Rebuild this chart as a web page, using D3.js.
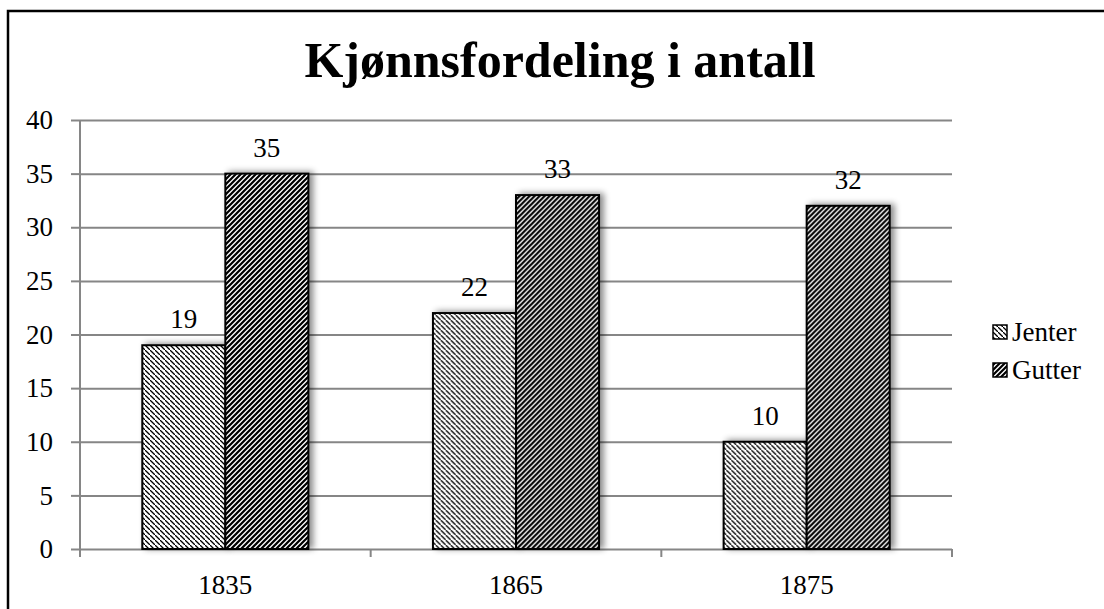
<!DOCTYPE html>
<html>
<head>
<meta charset="utf-8">
<script src="https://cdn.jsdelivr.net/npm/d3@7"></script>
<style>
  body { margin: 0; background: #fff; }
  text { font-family: "Liberation Serif", "DejaVu Serif", serif; fill: #000; }
</style>
</head>
<body>
<div id="canvas"></div>
<script>
/* DATA */
const years = ["1835", "1865", "1875"];
const series = ["Jenter", "Gutter"];
const jenter = [19, 22, 10];
const gutter = [35, 33, 32];
const yTicks = [0, 5, 10, 15, 20, 25, 30, 35, 40];
const title = "Kjønnsfordeling i antall";

const values = { Jenter: jenter, Gutter: gutter };

/* CREATE THE SVG CANVAS */
const width = 1104;
const height = 609;

const svg = d3.select("#canvas")
    .append("svg")
    .attr("width", width)
    .attr("height", height);

const defs = svg.append("defs");

/* HATCH PATTERNS FOR THE TWO SERIES */
const hatch = 5;

const jPat = defs.append("pattern")
    .attr("id", "hatch-jenter")
    .attr("patternUnits", "userSpaceOnUse")
    .attr("width", hatch).attr("height", hatch);
jPat.append("rect").attr("width", hatch).attr("height", hatch).attr("fill", "#fff");
jPat.append("path")
    .attr("d", `M-1,-1 l2,2 M0,0 l${hatch},${hatch} M${hatch - 1},${hatch - 1} l2,2`)
    .attr("stroke", "#000")
    .attr("stroke-width", 1.3);

const gPat = defs.append("pattern")
    .attr("id", "hatch-gutter")
    .attr("patternUnits", "userSpaceOnUse")
    .attr("width", hatch).attr("height", hatch);
gPat.append("rect").attr("width", hatch).attr("height", hatch).attr("fill", "#fff");
gPat.append("path")
    .attr("d", `M-1,1 l2,-2 M0,${hatch} l${hatch},-${hatch} M${hatch - 1},${hatch + 1} l2,-2`)
    .attr("stroke", "#000")
    .attr("stroke-width", 2.2);

const fills = { Jenter: "url(#hatch-jenter)", Gutter: "url(#hatch-gutter)" };

/* SOFT SHADOW ON THE BARS */
defs.append("filter")
    .attr("id", "shadow")
    .attr("x", "-20%").attr("y", "-20%")
    .attr("width", "150%").attr("height", "140%")
    .append("feDropShadow")
    .attr("dx", 4).attr("dy", -1)
    .attr("stdDeviation", 3)
    .attr("flood-color", "#000")
    .attr("flood-opacity", 0.45);

/* CHART FRAME */
svg.append("rect")
    .attr("x", 8).attr("y", 11)
    .attr("width", 1200).attr("height", 700)
    .attr("fill", "none")
    .attr("stroke", "#000")
    .attr("stroke-width", 2.5);

/* SCALES */
const plotLeft = 80, plotRight = 952, plotTop = 120, plotBottom = 549;

const x0 = d3.scaleBand()
    .domain(years)
    .range([plotLeft, plotRight])
    .padding(0);

const x1 = d3.scaleBand()
    .domain(series)
    .range([0, x0.bandwidth()])
    .paddingInner(0)
    .paddingOuter(0.75);

const y = d3.scaleLinear()
    .domain([0, 40])
    .range([plotBottom, plotTop]);

const grey = "#868686";

/* GRIDLINES AND Y AXIS */
const yAxis = svg.append("g")
    .attr("transform", `translate(${plotLeft},0)`)
    .call(d3.axisLeft(y).tickValues(yTicks).tickSize(9).tickPadding(18).tickFormat(d3.format("d")));
yAxis.select(".domain").remove();
yAxis.selectAll(".tick line").attr("stroke", grey).attr("stroke-width", 2);
yAxis.selectAll(".tick").append("line")
    .attr("x1", 0).attr("x2", plotRight - plotLeft)
    .attr("stroke", grey).attr("stroke-width", 2);
yAxis.selectAll(".tick text")
    .attr("font-size", 27)
    .attr("font-family", "Liberation Serif")
    .attr("fill", "#000");

svg.append("line")
    .attr("x1", plotLeft).attr("x2", plotLeft)
    .attr("y1", plotTop).attr("y2", plotBottom + 8)
    .attr("stroke", grey).attr("stroke-width", 2);

/* X AXIS */
const xAxis = svg.append("g")
    .attr("transform", `translate(0,${plotBottom})`)
    .call(d3.axisBottom(x0).tickSize(0).tickPadding(26));
xAxis.select(".domain").remove();
xAxis.selectAll(".tick text")
    .attr("font-size", 27)
    .attr("font-family", "Liberation Serif")
    .attr("fill", "#000");

svg.selectAll(".cat-tick")
    .data(years.map(d => x0(d)).concat([plotRight]))
    .enter().append("line")
    .attr("class", "cat-tick")
    .attr("x1", d => d).attr("x2", d => d)
    .attr("y1", plotBottom).attr("y2", plotBottom + 8)
    .attr("stroke", grey).attr("stroke-width", 2);

/* BARS */
const groups = svg.selectAll(".year")
    .data(years)
    .enter().append("g")
    .attr("class", "year")
    .attr("transform", d => `translate(${x0(d)},0)`);

const rows = (d, i) => series.map(s => ({ s: s, v: values[s][i] }));

groups.selectAll("rect")
    .data(rows)
    .enter().append("rect")
    .attr("x", d => x1(d.s))
    .attr("y", d => y(d.v))
    .attr("width", x1.bandwidth())
    .attr("height", d => y(0) - y(d.v))
    .attr("fill", d => fills[d.s])
    .attr("stroke", "#000")
    .attr("stroke-width", 2)
    .attr("filter", "url(#shadow)");

groups.selectAll(".label")
    .data(rows)
    .enter().append("text")
    .attr("class", "label")
    .attr("x", d => x1(d.s) + x1.bandwidth() / 2)
    .attr("y", d => y(d.v) - 17)
    .attr("text-anchor", "middle")
    .attr("font-size", 27)
    .text(d => d.v);

/* TITLE */
svg.append("text")
    .attr("x", 560)
    .attr("y", 77)
    .attr("text-anchor", "middle")
    .attr("font-size", 50)
    .attr("font-weight", "bold")
    .text(title);

/* LEGEND */
const legend = svg.selectAll(".legend")
    .data(series)
    .enter().append("g")
    .attr("class", "legend")
    .attr("transform", (d, i) => `translate(993,${332 + i * 38})`);

legend.append("rect")
    .attr("x", 0).attr("y", -7)
    .attr("width", 14).attr("height", 14)
    .attr("fill", d => fills[d])
    .attr("stroke", "#000")
    .attr("stroke-width", 1.5);

legend.append("text")
    .attr("x", 19)
    .attr("y", 9)
    .attr("font-size", 27)
    .text(d => d);
</script>
</body>
</html>
